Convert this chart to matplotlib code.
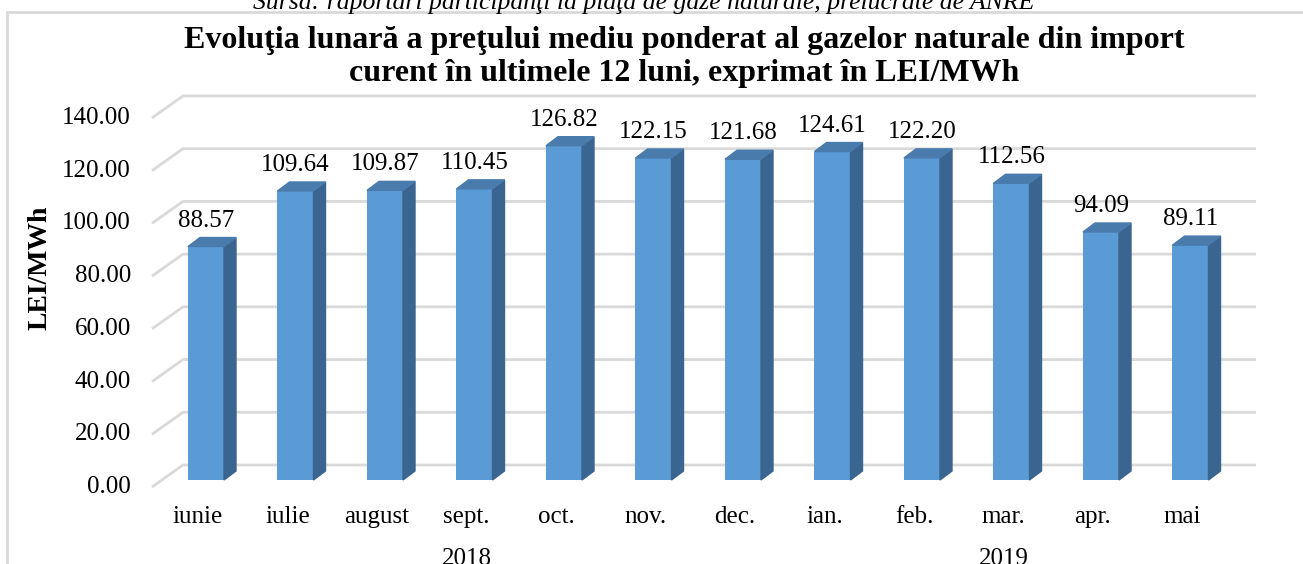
import matplotlib
matplotlib.use('Agg')
from matplotlib import pyplot as plt
from matplotlib.patches import Polygon, Rectangle

# date
luni = ['iunie', 'iulie', 'august', 'sept.', 'oct.', 'nov.', 'dec.',
        'ian.', 'feb.', 'mar.', 'apr.', 'mai']
preturi = [88.57, 109.64, 109.87, 110.45, 126.82, 122.15, 121.68,
           124.61, 122.20, 112.56, 94.09, 89.11]
ani = ['2018', '2019']
ani_idx = [(0, 6), (7, 11)]
y_ticks = [0, 20, 40, 60, 80, 100, 120, 140]

titlu = ('Evoluţia lunară a preţului mediu ponderat al gazelor naturale din import\n'
         'curent în ultimele 12 luni, exprimat în LEI/MWh')
sursa = 'Sursa: raportări participanţi la piaţa de gaze naturale, prelucrate de ANRE'

plt.rcParams['font.family'] = ['Liberation Serif', 'DejaVu Serif']

W, H = 1303, 564
fig = plt.figure(figsize=(W / 100, H / 100), dpi=100)
ax = fig.add_axes([0, 0, 1, 1])

# scala: 1 categorie = 89.5 px, 1 LEI/MWh = 2.636 px
px_x = 1 / 89.5
px_y = 1 / 2.636
x0_px, y0_px = 206, 480      # centrul barei 0, baza fetei frontale
ax.set_xlim(-x0_px * px_x, (W - x0_px) * px_x)
ax.set_ylim(-(H - y0_px) * px_y, y0_px * px_y)
ax.axis('off')

fs = 18

# perete: fata (-10, -7 px) si spate (+21, +15 px) fata de planul barelor
fx, fy = -10 * px_x, -7 * px_y
bx, by = 21 * px_x, 15 * px_y
x_left = (152 - x0_px) * px_x - fx
x_right = (1256 - x0_px) * px_x - bx
grid_c = '#d9d9d9'
for t in y_ticks:
    ax.plot([x_left + fx, x_left + bx, x_right + bx],
            [t + fy, t + by, t + by], color=grid_c, lw=2, zorder=1,
            solid_capstyle='butt')
    ax.text(x_left + fx - 21 * px_x, t + fy, f'{t:.2f}', ha='right',
            va='center', fontsize=fs)

# bare 3D
w = 36 * px_x
dx, dy = 12 * px_x, 9 * px_y
c_front, c_side, c_top = '#5b9bd5', '#3a6590', '#4a7bad'
for i, v in enumerate(preturi):
    xl = i - w / 2
    ax.bar(i, v, width=w, color=c_front, zorder=3)
    ax.add_patch(Polygon([(xl + w, 0), (xl + w + dx, dy), (xl + w + dx, v + dy),
                          (xl + w, v)], closed=True, color=c_side, zorder=3))
    ax.add_patch(Polygon([(xl, v), (xl + w, v), (xl + w + dx, v + dy),
                          (xl + dx, v + dy)], closed=True, color=c_top, zorder=3))
    ax.text(i, v + dy + 6 * px_y, f'{v:.2f}', ha='center', va='bottom',
            fontsize=fs, zorder=4)
    ax.text(i - 8 * px_x, -37 * px_y, luni[i], ha='center', va='center',
            fontsize=fs)

for an, (a, b) in zip(ani, ani_idx):
    ax.text((a + b) / 2 - 8 * px_x, -68 * px_y, an, ha='center', va='top',
            fontsize=fs)

# chenar, titlu, sursa
fig.patches.append(Rectangle((7 / W, -0.1), 1.1, (H - 12) / H + 0.1,
                             transform=fig.transFigure, fill=False,
                             edgecolor='#d9d9d9', lw=2))
fig.text(684 / W, (H - 57) / H, titlu, ha='center', va='center', fontsize=23,
         fontweight='bold', linespacing=1.2)
fig.text(644 / W, (H - 3) / H, sursa, ha='center', va='center', fontsize=18.5,
         style='italic')
fig.text(40 / W, (H - 268) / H, 'LEI/MWh', ha='center', va='center',
         rotation=90, fontsize=20, fontweight='bold')

plt.savefig('out.png', dpi=100)
